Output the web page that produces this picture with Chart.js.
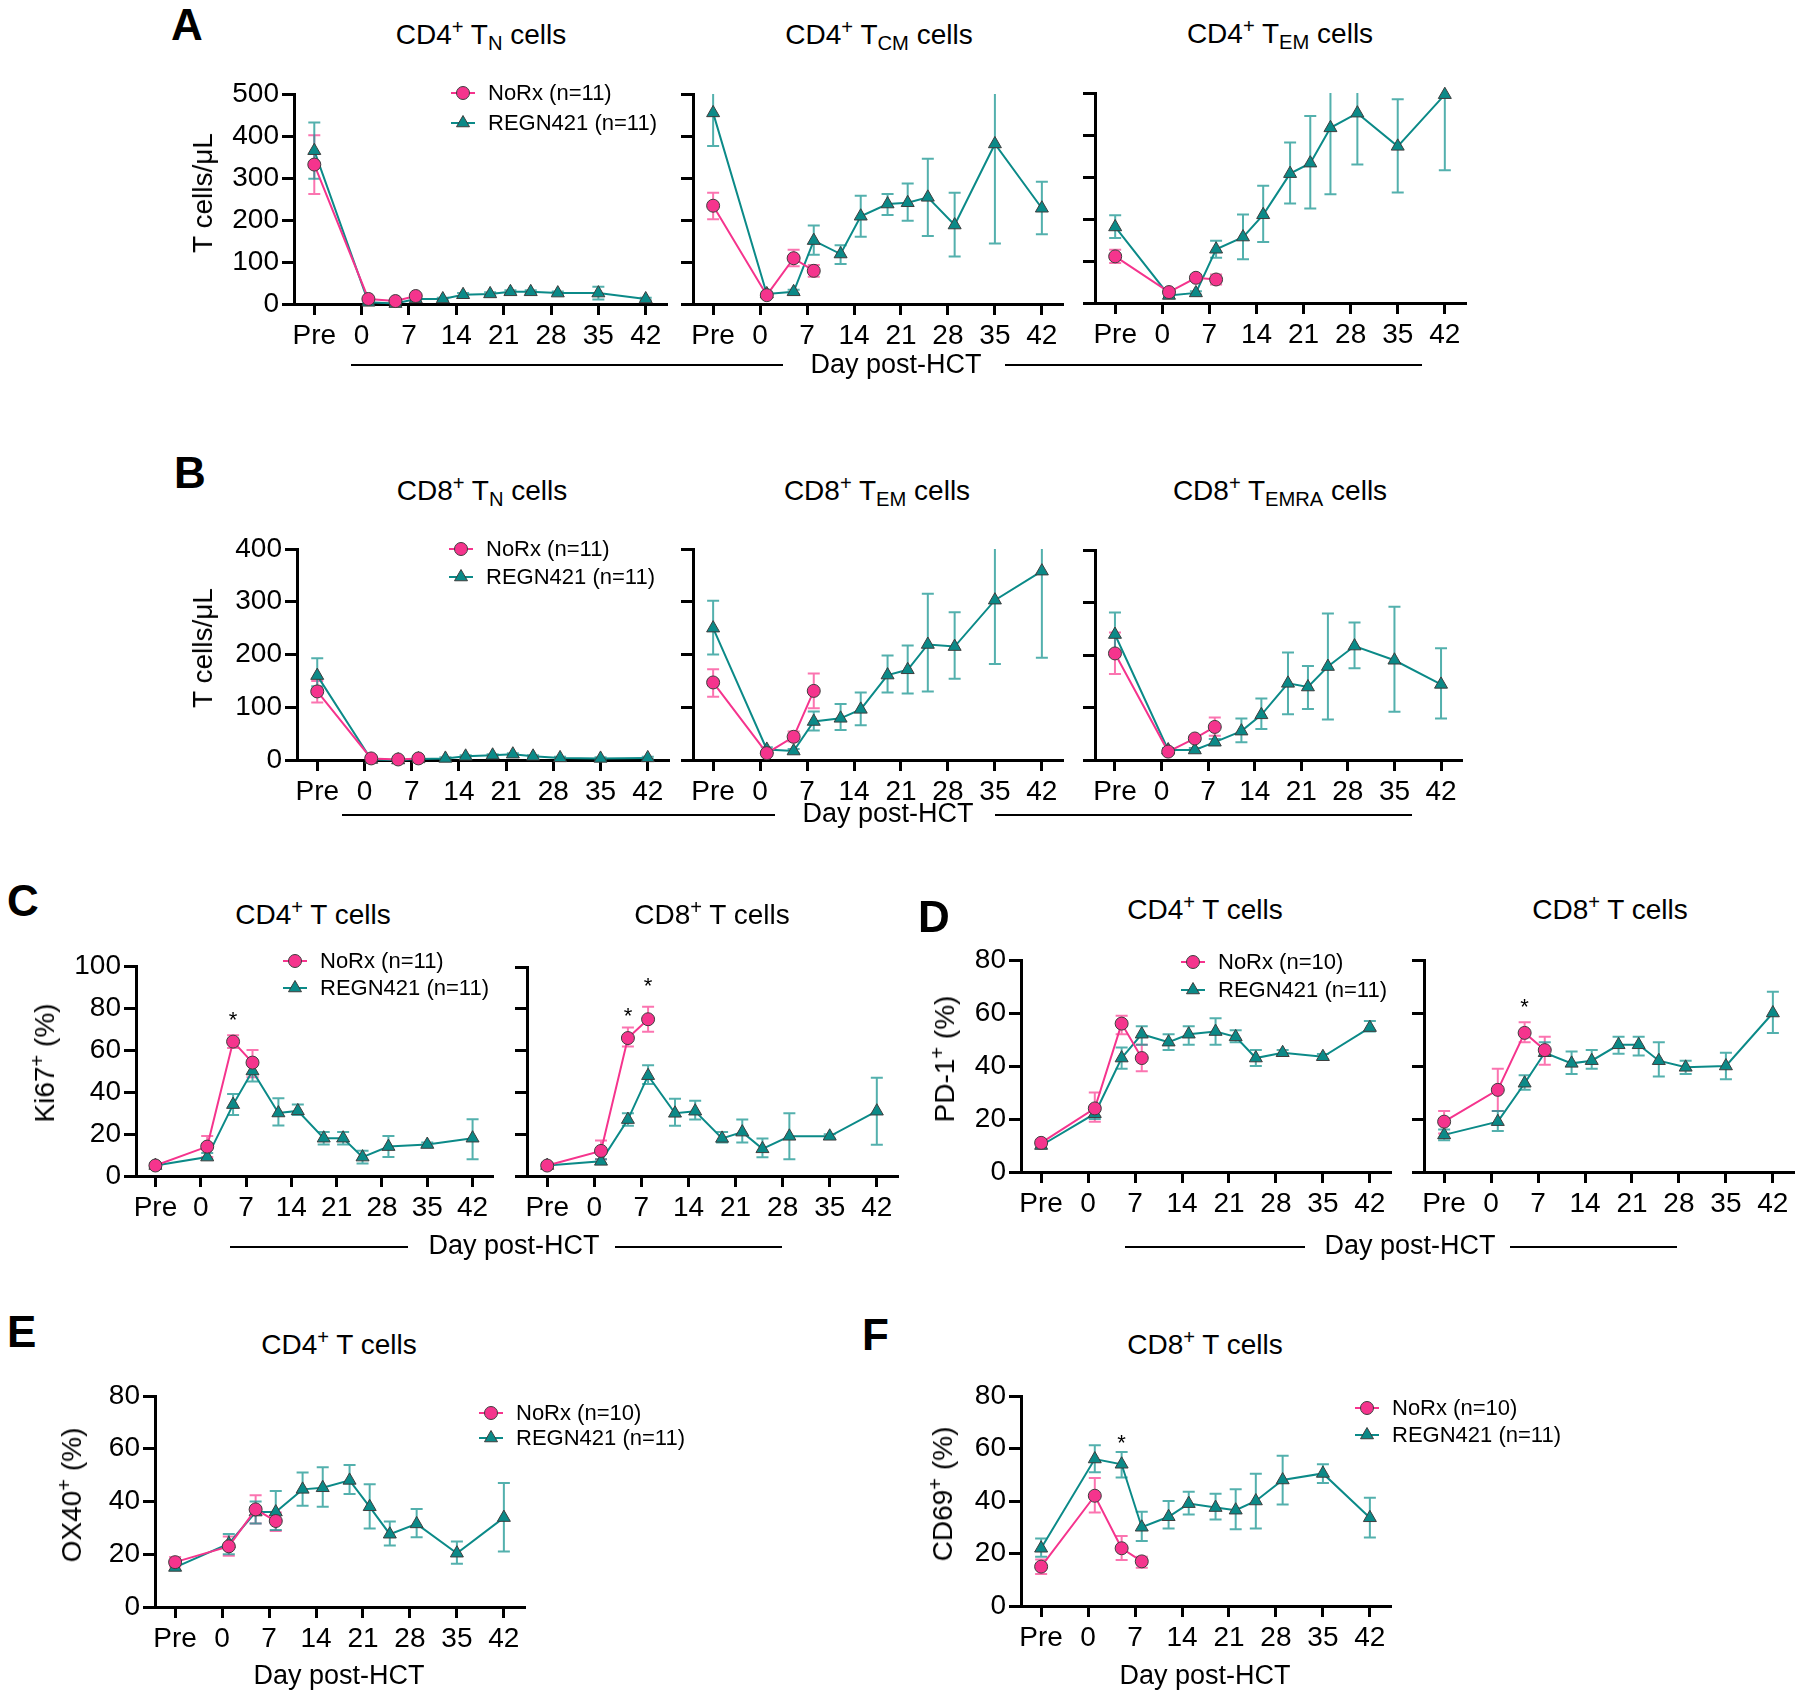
<!DOCTYPE html>
<html>
<head>
<meta charset="utf-8">
<script src="https://cdn.jsdelivr.net/npm/chart.js@4.4.1/dist/chart.umd.min.js"></script>
<style>
  body { margin: 0; background: #fff; }
  #fig { position: relative; width: 1800px; height: 1699px; overflow: hidden;
         font-family: "Liberation Sans", Arial, sans-serif; color: #000; background: #fff; }
  .t { position: absolute; white-space: nowrap; line-height: 1; }
  .sp { font-size: 0.72em; position: relative; top: -0.5em; }
  .sb { font-size: 0.72em; position: relative; top: 0.3em; }
  .hl { position: absolute; height: 2px; background: #000; }
</style>
</head>
<body>
<div id="fig"></div>
<script>
// x positions (days) - "Pre" sits at -7
var noRxDays = [-7, 1, 5, 8];
var regnDays = [-7, 1, 5, 8, 12, 15, 19, 22, 25, 29, 35, 42];
var xTickDays = [-7, 0, 7, 14, 21, 28, 35, 42];
var legendN11 = ['NoRx (n=11)', 'REGN421 (n=11)'];
var legendN10 = ['NoRx (n=10)', 'REGN421 (n=11)'];

// A - CD4 TN / TCM / TEM (T cells/uL)
var a1NoRx = [332, 12, 7, 19];
var a1NoRxErr = [[262, 402], [8, 16], [4, 10], [15, 23]];
var a1Regn = [365, 4, 1, 12, 12, 22, 24, 29, 29, 26, 26, 12];
var a1RegnErr = [[298, 432], [2, 6], [0, 3], [8, 16], [9, 15], [18, 26], [20, 28], [25, 33], [25, 33], [22, 30], [11, 41], [9, 15]];
var a2NoRx = [234, 21, 109, 79];
var a2NoRxErr = [[202, 265], [17, 25], [90, 129], [65, 93]];
var a2Regn = [455, 24, 29, 151, 119, 209, 238, 241, 254, 188, 381, 228];
var a2RegnErr = [[376, 520], [19, 29], [24, 34], [117, 187], [95, 140], [160, 258], [212, 262], [198, 287], [162, 346], [113, 265], [144, 560], [166, 291]];
var a3NoRx = [111, 26, 60, 56];
var a3NoRxErr = [[95, 127], [22, 30], [55, 65], [44, 68]];
var a3Regn = [181, 18, 24, 128, 157, 210, 308, 333, 417, 452, 373, 496];
var a3RegnErr = [[155, 209], [14, 22], [20, 28], [108, 148], [104, 211], [145, 279], [237, 382], [225, 445], [259, 540], [330, 540], [263, 485], [316, 560]];

// B - CD8 TN / TEM / TEMRA
var b1NoRx = [130, 3, 1, 3];
var b1NoRxErr = [[109, 150], [1, 5], [0, 2], [1, 5]];
var b1Regn = [160, 1, 0, 2, 3, 7, 9, 11, 7, 4, 3, 4];
var b1RegnErr = [[140, 193], [0, 2], [0, 1], [0, 4], [1, 5], [5, 9], [7, 11], [9, 13], [5, 9], [2, 6], [1, 5], [2, 6]];
var b2NoRx = [147, 13, 44, 131];
var b2NoRxErr = [[120, 172], [9, 17], [35, 54], [98, 164]];
var b2Regn = [250, 20, 17, 73, 79, 96, 161, 171, 219, 215, 303, 358];
var b2RegnErr = [[200, 302], [16, 24], [13, 21], [56, 92], [57, 106], [66, 128], [128, 198], [126, 217], [130, 315], [154, 280], [182, 420], [194, 420]];
var b3NoRx = [203, 16, 41, 63];
var b3NoRxErr = [[164, 243], [12, 20], [36, 46], [46, 81]];
var b3Regn = [239, 19, 19, 34, 55, 86, 146, 139, 178, 217, 190, 144];
var b3RegnErr = [[200, 281], [15, 23], [15, 23], [28, 40], [34, 79], [59, 117], [87, 205], [97, 179], [77, 279], [175, 262], [92, 292], [79, 213]];

// C - Ki67+ (%)
var c1NoRx = [5, 14, 64, 54];
var c1NoRxErr = [[4, 6], [9, 19], [61, 67], [47, 60]];
var c1Regn = [5, 9, 34, 50, 30, 31, 18, 18, 9, 14, 15, 18];
var c1RegnErr = [[4, 6], [8, 11], [29, 39], [45, 54], [24, 37], [29, 34], [15, 21], [15, 21], [6, 12], [9, 19], [14, 16], [8, 27]];
var c2NoRx = [5, 12, 66, 75];
var c2NoRxErr = [[4, 6], [8, 17], [62, 71], [69, 81]];
var c2Regn = [5, 7, 27, 48, 30, 31, 18, 21, 13, 19, 19, 31];
var c2RegnErr = [[4, 6], [6, 8], [24, 30], [44, 53], [24, 37], [27, 36], [16, 21], [16, 27], [9, 18], [8, 30], [18, 20], [15, 47]];

// D - PD-1+ (%)
var d1NoRx = [11, 24, 56, 43];
var d1NoRxErr = [[10, 12], [19, 30], [52, 59], [38, 48]];
var d1Regn = [10, 22, 43, 52, 49, 52, 53, 51, 43, 45, 43.5, 54.5];
var d1RegnErr = [[9, 11], [20, 24], [39, 47], [48, 55], [46, 52], [48, 55], [48, 58], [49, 53.5], [40, 46], [44, 46], [42.5, 44.5], [53, 57]];
var d2NoRx = [19, 31, 52.5, 46];
var d2NoRxErr = [[14.5, 23], [23, 39], [49, 56.5], [40.5, 51]];
var d2Regn = [14, 19, 33.5, 45, 41, 42, 48, 48, 42, 39.5, 40, 60];
var d2RegnErr = [[12, 16], [15.5, 23], [31, 36.5], [44, 49], [37, 45.5], [39, 46], [44.6, 51], [44, 51], [36, 49], [37, 42], [35, 45], [52.5, 68]];

// E - OX40+ (%), F - CD69+ (%)
var eNoRx = [17, 23, 37, 32.6];
var eNoRxErr = [[15.4, 19], [19.4, 26.7], [31.7, 42.4], [28.8, 35.8]];
var eRegn = [15, 24, 36, 36, 44.6, 45.2, 48, 38, 27.6, 31.5, 20.4, 33.9];
var eRegnErr = [[14, 16.2], [20, 27.7], [31.7, 40], [29.2, 44], [38.4, 51], [38, 53], [42.8, 53.8], [29.8, 46.5], [23.3, 32.4], [26.4, 37.2], [16.4, 24.8], [21, 47]];
var fNoRx = [15, 42, 22, 17];
var fNoRxErr = [[12.2, 17.7], [35.6, 48.8], [17.5, 26.7], [14.6, 18.8]];
var fRegn = [22, 56, 54, 30, 34, 39, 37.5, 36.5, 40, 48, 50.5, 33.6];
var fRegnErr = [[18.8, 25.7], [51, 61.2], [49, 58.7], [24.8, 35.9], [29.5, 40], [34.9, 43.5], [33, 42.8], [29.2, 44.5], [29.5, 50.4], [38.7, 57.2], [46.9, 54], [26.1, 41.2]];

// significance asterisks [day, y]
var c1Stars = [[5, 76.5]];
var c2Stars = [[5, 79], [8, 93.5]];
var d2Stars = [[5, 64]];
var fStars = [[5, 64]];

var PINK = '#f5348d', PINK_ERR = 'rgba(250,70,150,0.75)';
var TEAL = '#0b8a88', TEAL_ERR = 'rgba(25,150,146,0.75)';
var MARK_EDGE = '#3d3d3d';
var FONT = '"Liberation Sans", Arial, sans-serif';
var PAD_L = 95, PAD_T = 30, PAD_B = 70;
var fig = document.getElementById('fig');

function addText(html, x, baseline, size, opts) {
    opts = opts || {};
    var d = document.createElement('div');
    d.className = 't';
    d.innerHTML = html;
    d.style.fontSize = size + 'px';
    if (opts.bold) d.style.fontWeight = 'bold';
    d.style.top = (baseline - 0.8465 * size) + 'px';
    d.style.left = x + 'px';
    if (opts.align !== 'left') d.style.transform = 'translateX(-50%)';
    fig.appendChild(d);
}

function addYTitle(html, cx, cy, size) {
    var d = document.createElement('div');
    d.className = 't';
    d.innerHTML = html;
    d.style.fontSize = size + 'px';
    d.style.left = cx + 'px';
    d.style.top = cy + 'px';
    d.style.transform = 'translate(-50%,-50%) rotate(-90deg)';
    fig.appendChild(d);
}

function addRule(x1, x2, y) {
    var d = document.createElement('div');
    d.className = 'hl';
    d.style.left = x1 + 'px';
    d.style.top = (y - 1) + 'px';
    d.style.width = (x2 - x1) + 'px';
    fig.appendChild(d);
}

function drawMarker(ctx, style, x, y, fill) {
    ctx.beginPath();
    if (style === 'circle') {
        ctx.arc(x, y, 6.5, 0, Math.PI * 2);
    } else {
        var r = 7.5;
        ctx.moveTo(x, y - r);
        ctx.lineTo(x + r * 0.866, y + r / 2);
        ctx.lineTo(x - r * 0.866, y + r / 2);
        ctx.closePath();
    }
    ctx.fillStyle = fill;
    ctx.fill();
    ctx.strokeStyle = MARK_EDGE;
    ctx.lineWidth = 1;
    ctx.stroke();
}

// error bars, asterisks and the small legend
var extrasPlugin = {
    id: 'extras',
    beforeDatasetsDraw: function(chart) {
        var ctx = chart.ctx, xs = chart.scales.x, ys = chart.scales.y;
        chart.data.datasets.forEach(function(ds) {
            ctx.save();
            ctx.strokeStyle = ds.errColor;
            ctx.lineWidth = 2;
            ds.data.forEach(function(pt, i) {
                var e = ds.err[i];
                var lo = Math.max(e[0], ys.min), hi = Math.min(e[1], ys.max);
                var px = xs.getPixelForValue(pt.x);
                var y1 = ys.getPixelForValue(lo), y2 = ys.getPixelForValue(hi);
                ctx.beginPath();
                ctx.moveTo(px, y1);
                ctx.lineTo(px, y2);
                if (e[0] >= ys.min) { ctx.moveTo(px - 6, y1); ctx.lineTo(px + 6, y1); }
                if (e[1] <= ys.max) { ctx.moveTo(px - 6, y2); ctx.lineTo(px + 6, y2); }
                ctx.stroke();
            });
            ctx.restore();
        });
    },
    afterDraw: function(chart) {
        var p = chart.canvas._panel;
        var ctx = chart.ctx, xs = chart.scales.x, ys = chart.scales.y;
        ctx.save();
        ctx.fillStyle = '#000';
        ctx.font = '22px ' + FONT;
        ctx.textAlign = 'center';
        ctx.textBaseline = 'alphabetic';
        (p.stars || []).forEach(function(s) {
            ctx.fillText('*', xs.getPixelForValue(s[0]), ys.getPixelForValue(s[1]) + 12);
        });
        if (p.legend) {
            var lx = p.legend.x - p.originX;
            var ly = p.legend.y - p.originY;
            chart.data.datasets.forEach(function(ds, i) {
                var y = ly + i * p.legend.dy;
                ctx.strokeStyle = ds.borderColor;
                ctx.lineWidth = 2;
                ctx.beginPath();
                ctx.moveTo(lx - 12, y);
                ctx.lineTo(lx + 12, y);
                ctx.stroke();
                drawMarker(ctx, ds.pointStyle, lx, y, ds.pointBackgroundColor);
                ctx.fillStyle = '#000';
                ctx.font = '22px ' + FONT;
                ctx.textAlign = 'left';
                ctx.textBaseline = 'middle';
                ctx.fillText(ds.label, lx + 25, y + 1);
            });
        }
        ctx.restore();
    }
};

function seriesData(days, vals) {
    return vals.map(function(v, i) { return {x: days[i], y: v}; });
}

function addPanel(p) {
    var padR = p.padR || 25;
    var w = Math.round(p.right - p.left) + PAD_L + padR;
    var h = (p.bottom - p.top) + PAD_T + PAD_B;
    p.originX = p.left - PAD_L;
    p.originY = p.top - PAD_T;
    var cv = document.createElement('canvas');
    cv.width = w;
    cv.height = h;
    cv.style.cssText = 'position:absolute;left:' + p.originX + 'px;top:' + p.originY + 'px;width:' + w + 'px;height:' + h + 'px;';
    cv._panel = p;
    fig.appendChild(cv);

    var tickFont = {family: FONT, size: 28};
    new Chart(cv.getContext('2d'), {
        type: 'line',
        data: {
            datasets: [{
                label: p.labels[0],
                data: seriesData(noRxDays, p.noRx),
                err: p.noRxErr, errColor: PINK_ERR,
                borderColor: PINK, backgroundColor: PINK, borderWidth: 2,
                pointStyle: 'circle', pointRadius: 6.5, pointBackgroundColor: PINK,
                pointBorderColor: MARK_EDGE, pointBorderWidth: 1, tension: 0, clip: false
            }, {
                label: p.labels[1],
                data: seriesData(regnDays, p.regn),
                err: p.regnErr, errColor: TEAL_ERR,
                borderColor: TEAL, backgroundColor: TEAL, borderWidth: 2,
                pointStyle: 'triangle', pointRadius: 7.5, pointBackgroundColor: TEAL,
                pointBorderColor: MARK_EDGE, pointBorderWidth: 1, tension: 0, clip: false
            }]
        },
        options: {
            responsive: false,
            animation: false,
            devicePixelRatio: 1,
            events: [],
            layout: {padding: {left: 0, top: PAD_T, right: padR, bottom: 0}},
            plugins: {legend: {display: false}, tooltip: {enabled: false}},
            scales: {
                x: {
                    type: 'linear', min: -10, max: 45,
                    afterBuildTicks: function(s) { s.ticks = xTickDays.map(function(v) { return {value: v}; }); },
                    afterFit: function(s) { s.height = PAD_B; },
                    ticks: {
                        autoSkip: false, maxRotation: 0, minRotation: 0, color: '#000', font: tickFont, padding: 4,
                        callback: function(v) { return v === -7 ? 'Pre' : String(v); }
                    },
                    grid: {drawOnChartArea: false, drawTicks: true, tickLength: 11, tickWidth: 3, tickColor: '#000', color: '#000', lineWidth: 3},
                    border: {display: true, color: '#000', width: 3}
                },
                y: {
                    type: 'linear', min: 0, max: p.yMax,
                    afterFit: function(s) { s.width = PAD_L; },
                    ticks: {stepSize: p.yStep, color: '#000', font: tickFont, padding: 3, display: p.yLabels !== false},
                    grid: {drawOnChartArea: false, drawTicks: true, tickLength: 12, tickWidth: 3, tickColor: '#000', color: '#000', lineWidth: 3},
                    border: {display: true, color: '#000', width: 3}
                }
            }
        },
        plugins: [extrasPlugin]
    });
}

var panels = [
    {left: 294, top: 94, right: 666, bottom: 304, yMax: 500, yStep: 100, noRx: a1NoRx, noRxErr: a1NoRxErr, regn: a1Regn, regnErr: a1RegnErr,
     labels: legendN11, legend: {x: 463, y: 93, dy: 30}},
    {left: 693, top: 94, right: 1062, bottom: 304, yMax: 500, yStep: 100, yLabels: false, noRx: a2NoRx, noRxErr: a2NoRxErr, regn: a2Regn, regnErr: a2RegnErr, labels: legendN11},
    {left: 1095, top: 93, right: 1465, bottom: 303, yMax: 500, yStep: 100, yLabels: false, noRx: a3NoRx, noRxErr: a3NoRxErr, regn: a3Regn, regnErr: a3RegnErr, labels: legendN11},
    {left: 297, top: 549, right: 668, bottom: 760, yMax: 400, yStep: 100, noRx: b1NoRx, noRxErr: b1NoRxErr, regn: b1Regn, regnErr: b1RegnErr,
     labels: legendN11, legend: {x: 461, y: 549, dy: 28}},
    {left: 693, top: 549, right: 1062, bottom: 760, yMax: 400, yStep: 100, yLabels: false, noRx: b2NoRx, noRxErr: b2NoRxErr, regn: b2Regn, regnErr: b2RegnErr, labels: legendN11},
    {left: 1095, top: 550, right: 1461, bottom: 760, yMax: 400, yStep: 100, yLabels: false, noRx: b3NoRx, noRxErr: b3NoRxErr, regn: b3Regn, regnErr: b3RegnErr, labels: legendN11},
    {left: 136, top: 966, right: 492, bottom: 1176, yMax: 100, yStep: 20, noRx: c1NoRx, noRxErr: c1NoRxErr, regn: c1Regn, regnErr: c1RegnErr,
     labels: legendN11, legend: {x: 295, y: 961, dy: 27}, stars: c1Stars},
    {left: 527, top: 967, right: 897, bottom: 1176, yMax: 100, yStep: 20, yLabels: false, noRx: c2NoRx, noRxErr: c2NoRxErr, regn: c2Regn, regnErr: c2RegnErr,
     labels: legendN11, stars: c2Stars},
    {left: 1021, top: 960, right: 1390, bottom: 1172, yMax: 80, yStep: 20, noRx: d1NoRx, noRxErr: d1NoRxErr, regn: d1Regn, regnErr: d1RegnErr,
     labels: legendN10, legend: {x: 1193, y: 962, dy: 28}},
    {left: 1424, top: 960, right: 1793, bottom: 1172, yMax: 80, yStep: 20, yLabels: false, noRx: d2NoRx, noRxErr: d2NoRxErr, regn: d2Regn, regnErr: d2RegnErr,
     labels: legendN10, stars: d2Stars},
    {left: 155, top: 1396, right: 524, bottom: 1607, yMax: 80, yStep: 20, padR: 200, noRx: eNoRx, noRxErr: eNoRxErr, regn: eRegn, regnErr: eRegnErr,
     labels: legendN10, legend: {x: 491, y: 1413, dy: 25}},
    {left: 1021, top: 1396, right: 1390, bottom: 1606, yMax: 80, yStep: 20, padR: 200, noRx: fNoRx, noRxErr: fNoRxErr, regn: fRegn, regnErr: fRegnErr,
     labels: legendN10, legend: {x: 1367, y: 1408, dy: 27}, stars: fStars}
];
panels.forEach(addPanel);

// panel letters
addText('A', 171, 40, 44, {bold: true, align: 'left'});
addText('B', 174, 488, 44, {bold: true, align: 'left'});
addText('C', 7, 916, 44, {bold: true, align: 'left'});
addText('D', 918, 932, 44, {bold: true, align: 'left'});
addText('E', 7, 1347, 44, {bold: true, align: 'left'});
addText('F', 862, 1350, 44, {bold: true, align: 'left'});

// panel titles
addText('CD4<span class="sp">+</span> T<span class="sb">N</span> cells', 481, 45, 28);
addText('CD4<span class="sp">+</span> T<span class="sb">CM</span> cells', 879, 45, 28);
addText('CD4<span class="sp">+</span> T<span class="sb">EM</span> cells', 1280, 44, 28);
addText('CD8<span class="sp">+</span> T<span class="sb">N</span> cells', 482, 501, 28);
addText('CD8<span class="sp">+</span> T<span class="sb">EM</span> cells', 877, 501, 28);
addText('CD8<span class="sp">+</span> T<span class="sb">EMRA</span> cells', 1280, 501, 28);
addText('CD4<span class="sp">+</span> T cells', 313, 925, 28);
addText('CD8<span class="sp">+</span> T cells', 712, 925, 28);
addText('CD4<span class="sp">+</span> T cells', 1205, 920, 28);
addText('CD8<span class="sp">+</span> T cells', 1610, 920, 28);
addText('CD4<span class="sp">+</span> T cells', 339, 1355, 28);
addText('CD8<span class="sp">+</span> T cells', 1205, 1355, 28);

// y axis titles
addYTitle('T cells/&mu;L', 203, 193, 28);
addYTitle('T cells/&mu;L', 203, 648, 28);
addYTitle('Ki67<span class="sp">+</span> (%)', 45, 1063, 28);
addYTitle('PD-1<span class="sp">+</span> (%)', 945, 1059, 28);
addYTitle('OX40<span class="sp">+</span> (%)', 72, 1495, 28);
addYTitle('CD69<span class="sp">+</span> (%)', 943, 1494, 28);

// shared x axis titles with rules
addText('Day post-HCT', 896, 374, 27);
addRule(351, 783, 365); addRule(1005, 1422, 365);
addText('Day post-HCT', 888, 823, 27);
addRule(342, 775, 815); addRule(995, 1412, 815);
addText('Day post-HCT', 514, 1255, 27);
addRule(230, 408, 1247); addRule(615, 782, 1247);
addText('Day post-HCT', 1410, 1255, 27);
addRule(1125, 1305, 1247); addRule(1510, 1677, 1247);
addText('Day post-HCT', 339, 1685, 27);
addText('Day post-HCT', 1205, 1685, 27);
</script>
</body>
</html>
